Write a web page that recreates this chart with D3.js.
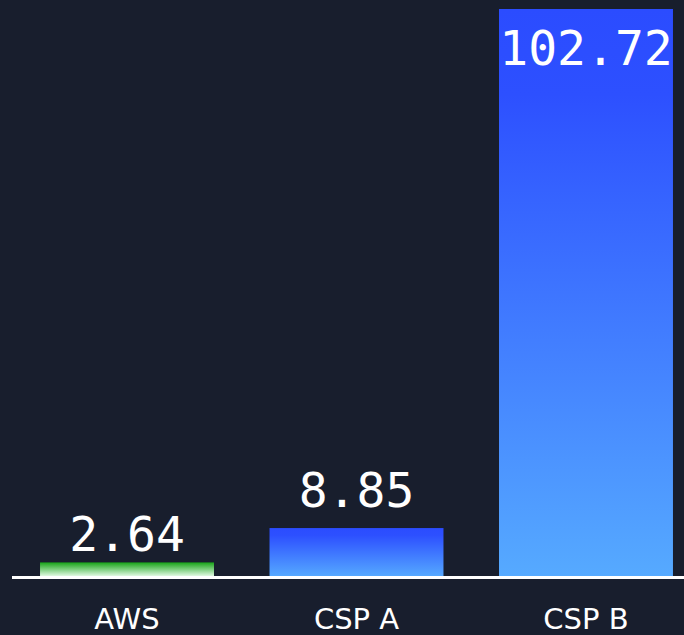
<!DOCTYPE html>
<html>
<head>
<meta charset="utf-8">
<script src="https://cdn.jsdelivr.net/npm/d3@7"></script>
<style>
  html, body { margin: 0; padding: 0; background: #181e2d; }
  svg { display: block; }
</style>
</head>
<body>
<svg id="svg"></svg>
<script>
var width = 684, height = 635;

var categories = ["AWS", "CSP A", "CSP B"];
var values = [2.64, 8.85, 102.72];
var gradients = ["gradGreen", "gradBlue", "gradBlue"];
var labelGap = [11, 21, 21];

var svg = d3.select("#svg").attr("width", width).attr("height", height);

var defs = svg.append("defs");
var g1 = defs.append("linearGradient").attr("id", "gradGreen")
  .attr("x1", 0).attr("y1", 0).attr("x2", 0).attr("y2", 1);
g1.append("stop").attr("offset", "0%").attr("stop-color", "#17a317");
g1.append("stop").attr("offset", "100%").attr("stop-color", "#effff0");

var g2 = defs.append("linearGradient").attr("id", "gradBlue")
  .attr("x1", 0).attr("y1", 0).attr("x2", 0).attr("y2", 1);
g2.append("stop").attr("offset", "0%").attr("stop-color", "#2b4cff");
g2.append("stop").attr("offset", "15%").attr("stop-color", "#2d50ff");
g2.append("stop").attr("offset", "100%").attr("stop-color", "#56aaff");

var baseY = 577;

var x = d3.scaleBand()
  .domain(categories)
  .range([12.5, 700.5])
  .paddingInner(0.242)
  .paddingOuter(0.12);

var y = d3.scaleLinear()
  .domain([0, 102.72])
  .range([baseY, 9]);

svg.selectAll("rect.bar").data(values).enter().append("rect")
  .attr("class", "bar")
  .attr("x", function(d, i){ return x(categories[i]); })
  .attr("y", function(d){ return y(d); })
  .attr("width", x.bandwidth())
  .attr("height", function(d){ return baseY - y(d); })
  .attr("fill", function(d, i){ return "url(#" + gradients[i] + ")"; });

// baseline
svg.append("line")
  .attr("x1", 12).attr("x2", width)
  .attr("y1", baseY + 0.5).attr("y2", baseY + 0.5)
  .attr("stroke", "#ffffff").attr("stroke-width", 3);

// value labels (inside the bar when it reaches the top)
svg.selectAll("text.val").data(values).enter().append("text")
  .attr("class", "val")
  .attr("x", function(d, i){ return x(categories[i]) + x.bandwidth() / 2; })
  .attr("y", function(d, i){ return Math.max(y(d) - labelGap[i], 65); })
  .attr("text-anchor", "middle")
  .attr("fill", "#ffffff")
  .style("font-family", "'DejaVu Sans Mono', monospace")
  .style("font-size", "48px")
  .text(function(d){ return d.toFixed(2); });

// category labels
svg.selectAll("text.cat").data(categories).enter().append("text")
  .attr("class", "cat")
  .attr("x", function(d){ return x(d) + x.bandwidth() / 2; })
  .attr("y", 629)
  .attr("text-anchor", "middle")
  .attr("fill", "#ffffff")
  .style("font-family", "'DejaVu Sans', sans-serif")
  .style("font-size", "29px")
  .text(function(d){ return d; });
</script>
</body>
</html>
